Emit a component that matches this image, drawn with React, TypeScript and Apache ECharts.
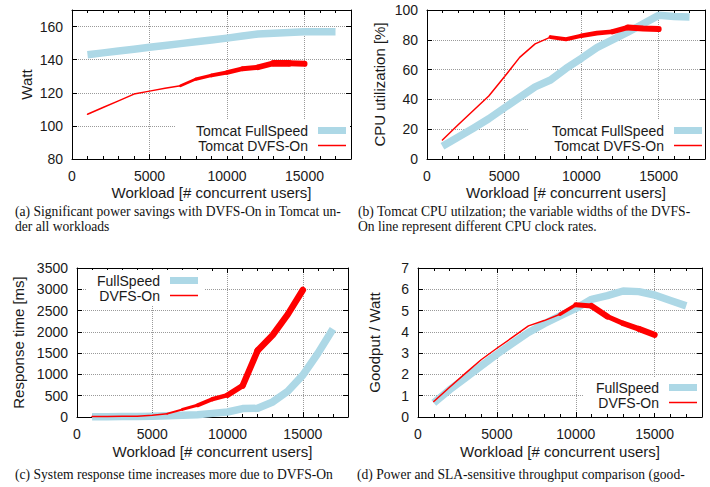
import React, { useEffect, useRef } from 'react';
import * as echarts from 'echarts';

// ---------- data ----------
const WORKLOAD_FULL = [1000, 2000, 3000, 4000, 5000, 6000, 7000, 8000, 9000, 10000, 11000, 12000, 13000, 14000, 15000, 16000, 17000];
const WORKLOAD_DVFS = [1000, 2000, 3000, 4000, 5000, 6000, 7000, 8000, 9000, 10000, 11000, 12000, 13000, 14000, 15000];

const POWER_FULL = [143, 144.1, 145.2, 146.3, 147.5, 148.6, 149.7, 150.8, 151.9, 153, 154.3, 155.5, 156, 156.4, 156.8, 156.9, 156.9];
const POWER_DVFS = [107, 111.1, 115.1, 119.2, 121, 122.7, 124.2, 128.3, 130.5, 132.3, 134.5, 135.4, 137.8, 137.8, 137.5];

const CPU_FULL = [8.6, 14.6, 20.7, 27, 34.2, 41.4, 48.4, 53, 60.8, 67.6, 74.8, 80, 85.1, 90.8, 96.4, 95.7, 95.3];
const CPU_DVFS = [12.8, 22.8, 32.5, 42.3, 55, 68.2, 77.3, 81.8, 80.4, 82.7, 84.5, 85.4, 88.3, 87.6, 87.2];

const RESP_FULL = [5, 8, 10, 12, 20, 28, 40, 55, 85, 118, 197, 204, 354, 605, 983, 1494, 2067];
const RESP_DVFS = [10, 12, 15, 20, 40, 79, 178, 275, 420, 515, 735, 1560, 1926, 2410, 2985];

const GOODPUT_FULL = [0.66, 1.28, 1.83, 2.4, 2.95, 3.47, 3.97, 4.38, 4.75, 5.1, 5.53, 5.7, 5.92, 5.89, 5.73, 5.47, 5.22];
const GOODPUT_DVFS = [0.73, 1.4, 2.05, 2.69, 3.23, 3.75, 4.28, 4.53, 4.83, 5.27, 5.22, 4.72, 4.4, 4.14, 3.86];

// line widths of the DVFS-On segments (encode CPU clock rate)
const POWER_DVFS_WIDTH = [1.5, 1.5, 1.5, 1.5, 1.5, 1.5, 2.7, 3.3, 4, 4.7, 5, 5.7, 6.7, 6];
const CPU_DVFS_WIDTH = [1.5, 1.5, 1.5, 1.5, 1.5, 1.5, 1.5, 4, 4, 4.7, 4.7, 5.3, 6, 6];
const RESP_DVFS_WIDTH = [1.5, 1.5, 1.5, 1.5, 1.5, 2, 3, 4, 4.5, 5.5, 6.3, 6.5, 6.5, 6.5];
const GOODPUT_DVFS_WIDTH = [1.5, 1.5, 1.5, 1.5, 1.5, 1.5, 1.5, 1.5, 3.5, 5, 6, 5, 5.5, 6];

const CAPTION_A = '(a) Significant power savings with DVFS-On in Tomcat un-\nder all workloads';
const CAPTION_B = '(b) Tomcat CPU utilzation; the variable widths of the DVFS-\nOn line represent different CPU clock rates.';
const CAPTION_C = '(c) System response time increases more due to DVFS-On';
const CAPTION_D = '(d) Power and SLA-sensitive throughput comparison (good-';

// ---------- styles ----------
const RED = '#ff0000';
const BLUE = '#add8e6';
const SANS = '"Liberation Sans", Arial, Helvetica, sans-serif';
const SERIF = '"Liberation Serif", "Times New Roman", serif';
const TXT = '#1a1a1a';
const plain = (v: number) => String(v);

const PANELS: any[] = [
  {
    grid: { left: 72, top: 10, width: 279, height: 149 },
    yMin: 80, yMax: 170, yInterval: 20, yName: 'Watt', yNameGap: 38, showMaxY: false, xNameGap: 26,
    fullName: 'Tomcat FullSpeed', dvfsName: 'Tomcat DVFS-On',
    full: POWER_FULL, dvfs: POWER_DVFS, widths: POWER_DVFS_WIDTH,
    legend: { right: 360, top: 120, padding: [3, 4, 3, 21] },
  },
  {
    grid: { left: 427, top: 10, width: 278, height: 149 },
    yMin: 0, yMax: 100, yInterval: 20, yName: 'CPU utilization [%]', yNameGap: 40, showMaxY: true, xNameGap: 26,
    fullName: 'Tomcat FullSpeed', dvfsName: 'Tomcat DVFS-On',
    full: CPU_FULL, dvfs: CPU_DVFS, widths: CPU_DVFS_WIDTH,
    legend: { right: 5, top: 120, padding: [3, 3, 3, 24] },
  },
  {
    grid: { left: 77, top: 268, width: 271, height: 149 },
    yMin: 0, yMax: 3500, yInterval: 500, yName: 'Response time [ms]', yNameGap: 51, showMaxY: true, xNameGap: 27,
    fullName: 'FullSpeed', dvfsName: 'DVFS-On',
    full: RESP_FULL, dvfs: RESP_DVFS, widths: RESP_DVFS_WIDTH,
    legend: { right: 506, top: 270, padding: [3, 6, 3, 10] },
  },
  {
    grid: { left: 418, top: 268, width: 284, height: 149 },
    yMin: 0, yMax: 7, yInterval: 1, yName: 'Goodput / Watt', yNameGap: 36, showMaxY: true, xNameGap: 27,
    fullName: 'FullSpeed', dvfsName: 'DVFS-On',
    full: GOODPUT_FULL, dvfs: GOODPUT_DVFS, widths: GOODPUT_DVFS_WIDTH,
    legend: { right: 8, top: 377, padding: [3, 5, 3, 13] },
  },
];

function buildOption() {
  const grid: any[] = [];
  const xAxis: any[] = [];
  const yAxis: any[] = [];
  const series: any[] = [];
  const legend: any[] = [];

  PANELS.forEach((p, g) => {
    grid.push({ ...p.grid });
    const tick = () => ({ show: true, inside: true, length: 5, lineStyle: { color: '#000', width: 1 } });
    const minor = () => ({ show: true, splitNumber: 5, length: 3, lineStyle: { color: '#000', width: 1 } });
    const boxLine = () => ({ show: true, onZero: false, lineStyle: { color: '#000', width: 1 } });
    const grd = () => ({ show: true, lineStyle: { color: '#9a9a9a', width: 1, type: 'dotted' } });

    // bottom x axis: labels, grid lines, name
    xAxis.push({
      gridIndex: g, type: 'value', min: 0, max: 18000, interval: 5000, position: 'bottom',
      axisLine: boxLine(), axisTick: tick(), minorTick: minor(),
      axisLabel: { show: true, fontSize: 14, color: TXT, margin: 10, fontFamily: SANS, showMaxLabel: false, formatter: plain },
      splitLine: grd(),
      name: 'Workload [# concurrent users]', nameLocation: 'middle', nameGap: p.xNameGap,
      nameTextStyle: { fontSize: 15, color: TXT, fontFamily: SANS },
    });
    // top mirror x axis
    xAxis.push({
      gridIndex: g, type: 'value', min: 0, max: 18000, interval: 5000, position: 'top',
      axisLine: boxLine(), axisTick: tick(), minorTick: minor(),
      axisLabel: { show: false }, splitLine: { show: false },
    });
    // left y axis
    yAxis.push({
      gridIndex: g, type: 'value', position: 'left', min: p.yMin, max: p.yMax, interval: p.yInterval,
      axisLine: boxLine(), axisTick: tick(),
      axisLabel: { show: true, fontSize: 14, color: TXT, margin: 9, fontFamily: SANS, showMaxLabel: p.showMaxY, formatter: plain },
      splitLine: grd(),
      name: p.yName, nameLocation: 'middle', nameGap: p.yNameGap, nameRotate: 90,
      nameTextStyle: { fontSize: 15, color: TXT, fontFamily: SANS },
    });
    // right mirror y axis
    yAxis.push({
      gridIndex: g, type: 'value', position: 'right', min: p.yMin, max: p.yMax, interval: p.yInterval,
      axisLine: boxLine(), axisTick: tick(),
      axisLabel: { show: false }, splitLine: { show: false },
    });

    const xi = g * 2;
    const yi = g * 2;
    series.push({
      type: 'line', name: p.fullName, xAxisIndex: xi, yAxisIndex: yi,
      data: WORKLOAD_FULL.map((x, i) => [x, p.full[i]]),
      symbol: 'none', clip: false,
      itemStyle: { color: BLUE },
      lineStyle: { color: BLUE, width: 7.5, cap: 'butt', join: 'round' },
    });
    // DVFS-On: consecutive segments of equal width grouped into one line
    let start = 0;
    for (let i = 1; i <= p.widths.length; i++) {
      if (i === p.widths.length || p.widths[i] !== p.widths[start]) {
        const data: number[][] = [];
        for (let k = start; k <= i; k++) data.push([WORKLOAD_DVFS[k], p.dvfs[k]]);
        series.push({
          type: 'line', name: p.dvfsName, xAxisIndex: xi, yAxisIndex: yi, data,
          symbol: 'none', clip: false,
          itemStyle: { color: RED },
          lineStyle: { color: RED, width: p.widths[start], cap: 'round', join: 'round' },
        });
        start = i;
      }
    }

    legend.push({
      orient: 'vertical', align: 'right', ...p.legend,
      itemGap: 0, itemWidth: 28, itemHeight: 7,
      backgroundColor: '#ffffff',
      textStyle: { fontSize: 14, color: TXT, fontFamily: SANS, lineHeight: 15, padding: [0, 5, 0, 0] },
      data: [
        { name: p.fullName, icon: 'rect' },
        { name: p.dvfsName, icon: 'path://M0,0H28V1.5H0Z' },
      ],
    });
  });

  const capStyle = (text: string) => ({ text, font: `13.6px ${SERIF}`, fill: '#111', lineHeight: 15 });
  const graphic = [
    { type: 'text', left: 15, top: 204, style: capStyle(CAPTION_A) },
    { type: 'text', left: 358, top: 204, style: capStyle(CAPTION_B) },
    { type: 'text', left: 15, top: 467, style: capStyle(CAPTION_C) },
    { type: 'text', left: 357, top: 467, style: capStyle(CAPTION_D) },
  ];

  return { animation: false, grid, xAxis, yAxis, series, legend, graphic };
}

export default function App() {
  const ref = useRef<HTMLDivElement>(null);
  useEffect(() => {
    if (!ref.current) return;
    const chart = echarts.init(ref.current, undefined, { renderer: 'svg' });
    chart.setOption(buildOption() as any);
    return () => chart.dispose();
  }, []);
  return (
    <div
      ref={ref}
      style={{ position: 'fixed', left: 0, top: 0, width: 710, height: 487, background: '#fff' }}
    />
  );
}
